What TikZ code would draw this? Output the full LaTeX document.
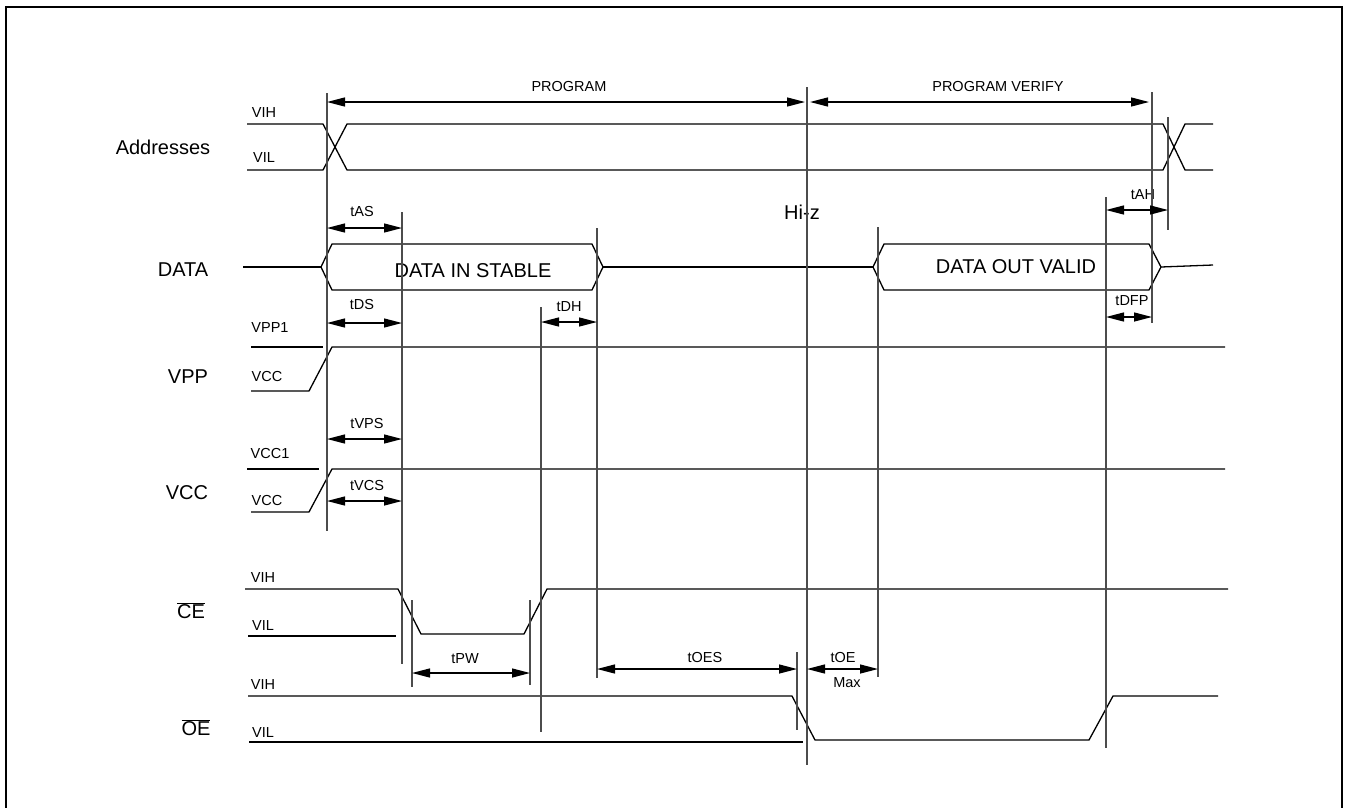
\documentclass[tikz,border=0pt]{standalone}
\usepackage{fontspec}
\setmainfont{Liberation Sans}
\usetikzlibrary{arrows.meta}

\begin{document}
\begin{tikzpicture}[x=1pt,y=-1pt,
  sig/.style={black, line width=1.3pt, line join=miter},
  guide/.style={black!70, line width=1.3pt},
  dim/.style={black, line width=1.3pt, {Triangle[length=18pt,width=9pt]}-{Triangle[length=18pt,width=9pt]}},
  big/.style={font=\fontsize{20}{24}\selectfont, inner sep=0pt},
  lvl/.style={font=\fontsize{14.5}{17}\selectfont, inner sep=0pt}]
\useasboundingbox (0,0) rectangle (1345,807);
\draw[black, line width=1.5pt] (6,815) -- (6,7) -- (1342,7) -- (1342,815);

\node[big] (addr) at (163,147) {Addresses};
\node[big] (data) at (183,270) {DATA};
\node[big] (vpp) at (188,377) {VPP};
\node[big] (vcc) at (187,493) {VCC};
\node[big] (ce) at (191,611) {$\overline{\mbox{CE}}$};
\node[big] (oe) at (196,728) {$\overline{\mbox{OE}}$};

\node[lvl] (addrH) at (264,113) {VIH};
\node[lvl] (addrL) at (264,158) {VIL};
\node[lvl] (vppH) at (270,328) {VPP1};
\node[lvl] (vppL) at (267,377) {VCC};
\node[lvl] (vccH) at (270,453) {VCC1};
\node[lvl] (vccL) at (267,500) {VCC};
\node[lvl] (ceH) at (263,578) {VIH};
\node[lvl] (ceL) at (263,626) {VIL};
\node[lvl] (oeH) at (263,685) {VIH};
\node[lvl] (oeL) at (263,733) {VIL};

\node[lvl] (prog) at (569,87) {PROGRAM};
\node[lvl] (verify) at (998,87) {PROGRAM VERIFY};
\node[lvl] (tas) at (362,212) {tAS};
\node[lvl] (tds) at (362,305) {tDS};
\node[lvl] (tdh) at (569,307) {tDH};
\node[lvl] (tvps) at (367,423) {tVPS};
\node[lvl] (tvcs) at (367,485) {tVCS};
\node[lvl] (tpw) at (465,659) {tPW};
\node[lvl] (toes) at (705,657) {tOES};
\node[lvl] (toe) at (843,657) {tOE};
\node[lvl] (max) at (847,683) {Max};
\node[lvl] (tdfp) at (1132,301) {tDFP};
\node[lvl] (tah) at (1143,195) {tAH};
\node[big] (hiz) at (802,212) {Hi-z};
\node[big] (din) at (473,271) {DATA IN STABLE};
\node[big] (dout) at (1016,267) {DATA OUT VALID};

\draw[sig] (247,124) -- (323,124) -- (347,170) -- (1163,170) -- (1185,124) -- (1213,124);
\draw[sig] (247,170) -- (323,170) -- (347,124) -- (1163,124) -- (1185,170) -- (1213,170);

\draw[sig] (243,267) -- (321,267);
\draw[sig] (321,267) -- (332,244) -- (592,244) -- (603,267) -- (592,290) -- (332,290) -- cycle;
\draw[sig] (603,267) -- (873,267);
\draw[sig] (873,267) -- (884,244) -- (1149,244) -- (1161,267) -- (1149,290) -- (884,290) -- cycle;
\draw[sig] (1161,267) -- (1213,265);

\draw[sig] (251,347) -- (323,347);
\draw[sig] (251,391) -- (309,391) -- (332,347) -- (1225,347);
\draw[sig] (247,469) -- (319,469);
\draw[sig] (251,512) -- (309,512) -- (332,469) -- (1225,469);

\draw[sig] (245,589) -- (398,589) -- (421,634) -- (524,634) -- (547,589) -- (1228,589);
\draw[sig] (248,636) -- (396,636);
\draw[sig] (248,696) -- (792,696) -- (815,740) -- (1089,740) -- (1113,696) -- (1218,696);
\draw[sig] (249,742) -- (803,742);

\draw[guide] (327,93) -- (327,531);
\draw[guide] (807,87) -- (807,765);
\draw[guide] (1152,92) -- (1152,323);
\draw[guide] (1168,117) -- (1168,230);
\draw[guide] (1106,197) -- (1106,748);
\draw[guide] (402,212) -- (402,664);
\draw[guide] (541,307) -- (541,732);
\draw[guide] (597,228) -- (597,678);
\draw[guide] (412,600) -- (412,687);
\draw[guide] (530,600) -- (530,685);
\draw[guide] (797,652) -- (797,730);
\draw[guide] (878,227) -- (878,677);

\draw[dim] (327,102) -- (805,102);
\draw[dim] (810,102) -- (1149,102);
\draw[dim] (327,228) -- (402,228);
\draw[dim] (327,323) -- (402,323);
\draw[dim] (541,322) -- (597,322);
\draw[dim] (327,439) -- (402,439);
\draw[dim] (327,501) -- (402,501);
\draw[dim] (412,673) -- (530,673);
\draw[dim] (597,669) -- (797,669);
\draw[dim] (807,669) -- (878,669);
\draw[dim] (1106,317) -- (1152,317);
\draw[dim] (1106,210) -- (1168,210);
\end{tikzpicture}
\end{document}
